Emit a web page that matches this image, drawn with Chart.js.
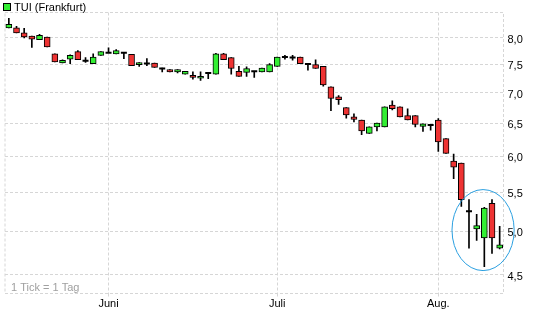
<!DOCTYPE html>
<html lang="de">
<head>
<meta charset="UTF-8">
<title>TUI (Frankfurt)</title>
<script src="https://cdn.jsdelivr.net/npm/chart.js"></script>
<style>
    html, body { margin: 0; padding: 0; background: #fff; }
    #box { width: 545px; height: 327px; }
</style>
</head>
<body>
<div id="box"><canvas id="chartTui"></canvas></div>

<script>
    // Handelstage 13.05. - 11.08.
    const tage = [
        '13.05', '16.05', '17.05', '18.05', '19.05', '20.05', '23.05', '24.05', '25.05', '26.05', '27.05', '30.05', '31.05',
        '01.06', '02.06', '03.06', '06.06', '07.06', '08.06', '09.06', '10.06', '13.06', '14.06', '15.06', '16.06', '17.06',
        '20.06', '21.06', '22.06', '23.06', '24.06', '27.06', '28.06', '29.06', '30.06',
        '01.07', '04.07', '05.07', '06.07', '07.07', '08.07', '11.07', '12.07', '13.07', '14.07', '15.07', '18.07', '19.07',
        '20.07', '21.07', '22.07', '25.07', '26.07', '27.07', '28.07', '29.07',
        '01.08', '02.08', '03.08', '04.08', '05.08', '08.08', '09.08', '10.08', '11.08'
    ];

    const eroeffnung = [
        8.19, 8.19, 8.09, 8.03, 7.96, 8.01, 7.69, 7.52, 7.59, 7.73, 7.56, 7.51, 7.66,
        7.71, 7.69, 7.71, 7.68, 7.49, 7.51, 7.52, 7.42, 7.40, 7.36, 7.32, 7.30, 7.25,
        7.34, 7.32, 7.69, 7.62, 7.37, 7.35, 7.37, 7.36, 7.36,
        7.46, 7.63, 7.62, 7.63, 7.50, 7.49, 7.46, 7.10, 6.93, 6.75, 6.60, 6.55, 6.34,
        6.44, 6.44, 6.79, 6.76, 6.62, 6.62, 6.45, 6.47,
        6.55, 6.26, 5.93, 5.90, 5.25, 5.03, 4.92, 5.35, 4.80
    ];
    const hoch = [
        8.38, 8.22, 8.18, 8.03, 8.06, 8.01, 7.69, 7.58, 7.67, 7.75, 7.62, 7.69, 7.73,
        7.80, 7.77, 7.71, 7.68, 7.53, 7.60, 7.52, 7.43, 7.40, 7.40, 7.37, 7.36, 7.36,
        7.35, 7.70, 7.70, 7.62, 7.46, 7.45, 7.37, 7.43, 7.51,
        7.63, 7.66, 7.66, 7.63, 7.50, 7.58, 7.46, 7.10, 6.95, 6.75, 6.65, 6.55, 6.44,
        6.50, 6.76, 6.86, 6.76, 6.73, 6.62, 6.49, 6.47,
        6.57, 6.26, 6.03, 5.90, 5.40, 5.21, 5.30, 5.40, 5.06
    ];
    const tief = [
        8.19, 8.09, 7.99, 7.81, 7.96, 7.82, 7.54, 7.52, 7.51, 7.58, 7.53, 7.51, 7.66,
        7.71, 7.69, 7.60, 7.47, 7.46, 7.47, 7.44, 7.36, 7.36, 7.34, 7.32, 7.23, 7.21,
        7.24, 7.32, 7.58, 7.32, 7.28, 7.28, 7.26, 7.36, 7.36,
        7.46, 7.59, 7.57, 7.51, 7.39, 7.42, 7.11, 6.70, 6.80, 6.58, 6.52, 6.32, 6.34,
        6.38, 6.44, 6.71, 6.60, 6.55, 6.44, 6.37, 6.39,
        6.07, 6.04, 5.68, 5.31, 4.80, 4.89, 4.59, 4.74, 4.79
    ];
    const schluss = [
        8.26, 8.09, 8.01, 7.97, 8.04, 7.82, 7.54, 7.57, 7.66, 7.58, 7.56, 7.63, 7.73,
        7.71, 7.75, 7.71, 7.47, 7.53, 7.51, 7.44, 7.42, 7.36, 7.40, 7.37, 7.26, 7.28,
        7.34, 7.69, 7.58, 7.42, 7.28, 7.42, 7.37, 7.43, 7.49,
        7.63, 7.63, 7.62, 7.51, 7.50, 7.42, 7.13, 6.90, 6.88, 6.63, 6.56, 6.38, 6.44,
        6.50, 6.76, 6.73, 6.60, 6.55, 6.48, 6.49, 6.47,
        6.21, 6.04, 5.84, 5.40, 5.25, 5.07, 5.29, 4.92, 4.84
    ];

    const yTicks = [4.5, 5.0, 5.5, 6.0, 6.5, 7.0, 7.5, 8.0];
    const monatsNamen = { '06': 'Juni', '07': 'Juli', '08': 'Aug.' };

    const schrift = { family: '"Liberation Sans", Arial, sans-serif', size: 11 };
    const gruen = '#33ee33';
    const rot = '#ee3333';
    const gitter = '#d6d6d6';

    function monatsAnfang(i) {
        return i > 0 && tage[i].slice(3) !== tage[i - 1].slice(3);
    }

    const dochte = tief.map((t, i) => [t, hoch[i]]);
    const koerper = eroeffnung.map((o, i) => o === schluss[i] ? null : [Math.min(o, schluss[i]), Math.max(o, schluss[i])]);
    const farben = eroeffnung.map((o, i) => schluss[i] >= o ? gruen : rot);
    const doji = eroeffnung.map((o, i) => o === schluss[i] ? o : null);

    const rahmenPlugin = {
        id: 'rahmen',
        beforeDatasetsDraw(chart) {
            const { ctx, chartArea: a } = chart;
            ctx.save();
            ctx.strokeStyle = gitter;
            ctx.lineWidth = 1;
            ctx.setLineDash([3, 2]);
            ctx.strokeRect(a.left, a.top, a.right - a.left, a.bottom - a.top);
            ctx.setLineDash([]);
            ctx.fillStyle = '#a0a0a0';
            ctx.font = '11px "Liberation Sans", Arial, sans-serif';
            ctx.textBaseline = 'alphabetic';
            ctx.fillText('1 Tick = 1 Tag', a.left + 6, a.bottom - 3);
            ctx.restore();
        },
        afterDatasetsDraw(chart) {
            // Markierung der letzten Kerzen
            const { ctx, scales } = chart;
            const erster = 60, letzter = tage.length - 1;
            const xa = scales.x.getPixelForValue(erster) - 17;
            const xb = scales.x.getPixelForValue(letzter) + 14.5;
            const ya = scales.y.getPixelForValue(Math.max(...hoch.slice(erster))) - 10;
            const yb = scales.y.getPixelForValue(Math.min(...tief.slice(erster))) + 4;
            ctx.save();
            ctx.strokeStyle = '#2a9fe0';
            ctx.lineWidth = 1;
            ctx.beginPath();
            ctx.ellipse((xa + xb) / 2, (ya + yb) / 2, (xb - xa) / 2, (yb - ya) / 2, 0, 0, Math.PI * 2);
            ctx.stroke();
            ctx.restore();
        },
        afterDraw(chart) {
            const { ctx } = chart;
            ctx.save();
            ctx.fillStyle = gruen;
            ctx.fillRect(3.5, 3.5, 7, 7);
            ctx.strokeStyle = '#000';
            ctx.lineWidth = 1;
            ctx.strokeRect(3.5, 3.5, 7, 7);
            ctx.fillStyle = '#000';
            ctx.font = '11px "Liberation Sans", Arial, sans-serif';
            ctx.textBaseline = 'middle';
            ctx.fillText('TUI (Frankfurt)', 14, 7.5);
            ctx.restore();
        }
    };

    const ctxTui = document.getElementById('chartTui');

    new Chart(ctxTui, {
        type: 'bar',
        data: {
            labels: tage,
            datasets: [
                {
                    type: 'line',
                    label: 'Doji',
                    data: doji,
                    showLine: false,
                    pointStyle: 'line',
                    pointRadius: 3,
                    pointHoverRadius: 3,
                    borderColor: '#000',
                    borderWidth: 2,
                    order: 0
                },
                {
                    label: 'Kerze',
                    data: koerper,
                    backgroundColor: farben,
                    borderColor: '#000',
                    borderWidth: 1,
                    borderSkipped: false,
                    barThickness: 6,
                    grouped: false,
                    order: 1
                },
                {
                    label: 'Docht',
                    data: dochte,
                    backgroundColor: '#000',
                    borderWidth: 0,
                    barThickness: 1,
                    grouped: false,
                    order: 2
                }
            ]
        },
        options: {
            responsive: true,
            maintainAspectRatio: false,
            animation: false,
            layout: { padding: { top: 12.5, left: 2.5, right: 0, bottom: 0 } },
            plugins: {
                legend: { display: false },
                tooltip: { enabled: false }
            },
            scales: {
                x: {
                    type: 'category',
                    offset: true,
                    grid: {
                        offset: false,
                        tickLength: 3,
                        color: c => monatsAnfang(c.index) ? gitter : 'rgba(0,0,0,0)'
                    },
                    border: { display: false, dash: [3, 2] },
                    ticks: {
                        autoSkip: false,
                        maxRotation: 0,
                        padding: 1,
                        color: '#000',
                        font: schrift,
                        callback: (v, i) => monatsAnfang(i) ? monatsNamen[tage[i].slice(3)] : ''
                    },
                    afterFit: s => { s.height = 33.5; }
                },
                y: {
                    type: 'logarithmic',
                    position: 'right',
                    min: 4.307,
                    max: 8.5,
                    afterBuildTicks: s => { s.ticks = yTicks.map(v => ({ value: v })); },
                    grid: { color: gitter, drawTicks: false },
                    border: { display: false, dash: [3, 2] },
                    ticks: {
                        padding: 4,
                        labelOffset: 2,
                        color: '#000',
                        font: schrift,
                        callback: v => Number(v).toFixed(1).replace('.', ',')
                    },
                    afterFit: s => { s.width = 41.5; }
                }
            }
        },
        plugins: [rahmenPlugin]
    });
</script>
</body>
</html>
